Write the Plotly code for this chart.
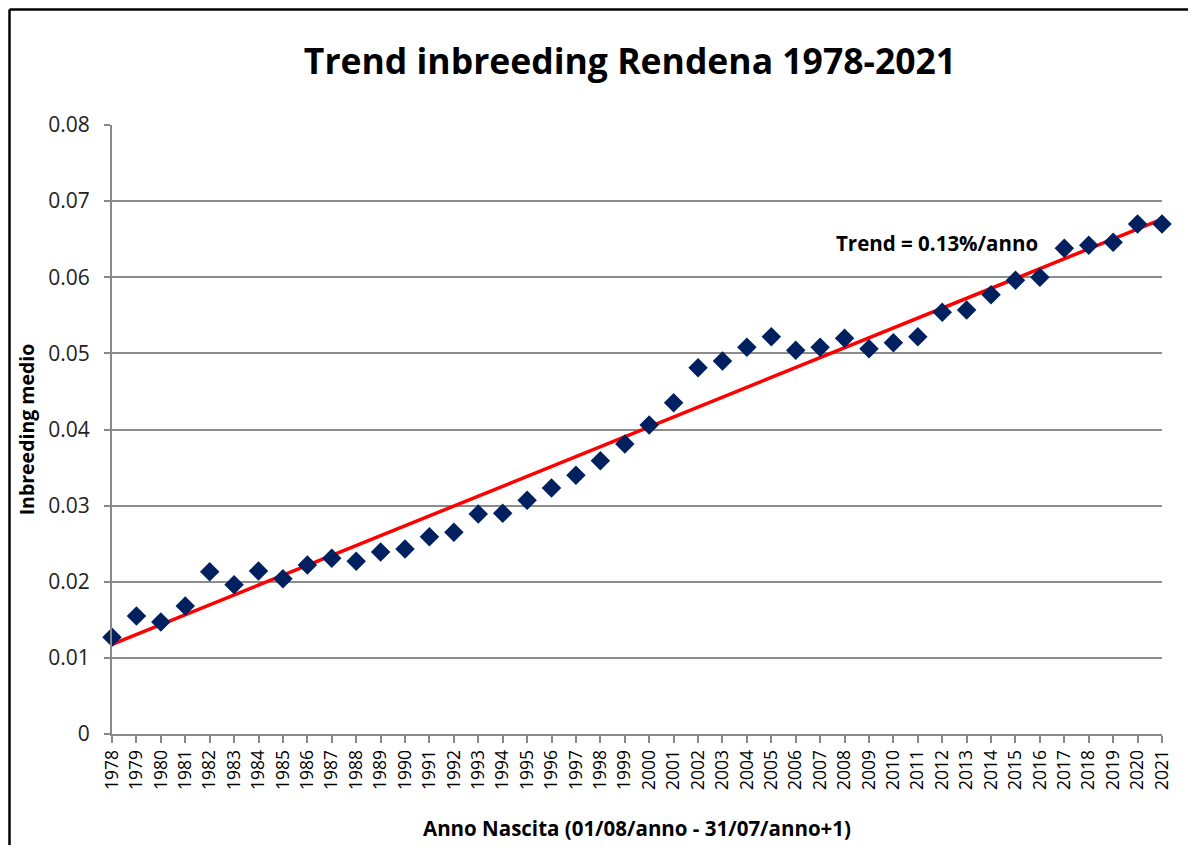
import numpy as np
import plotly.graph_objects as go

years = list(range(1978, 2022))
inbreeding = [0.0127, 0.0155, 0.0147, 0.0168, 0.0213, 0.0196, 0.0214, 0.0204, 0.0222, 0.0231,
              0.0227, 0.0239, 0.0243, 0.0259, 0.0265, 0.0289, 0.0290, 0.0307, 0.0323, 0.0340,
              0.0359, 0.0381, 0.0406, 0.0435, 0.0481, 0.0490, 0.0508, 0.0522, 0.0504, 0.0508,
              0.0520, 0.0506, 0.0514, 0.0522, 0.0554, 0.0557, 0.0577, 0.0596, 0.0600, 0.0638,
              0.0642, 0.0646, 0.0670, 0.0670]
y_ticks = [0, 0.01, 0.02, 0.03, 0.04, 0.05, 0.06, 0.07, 0.08]
y_tick_labels = ["0", "0.01", "0.02", "0.03", "0.04", "0.05", "0.06", "0.07", "0.08"]
title_text = "Trend inbreeding Rendena 1978-2021"
trend_label = "Trend = 0.13%/anno"

slope, intercept = np.polyfit(years, inbreeding, 1)
trend_x = [years[0], years[-1]]
trend_y = [slope * x + intercept for x in trend_x]

FONT = "Open Sans"
fig = go.Figure()
fig.add_trace(go.Scatter(x=trend_x, y=trend_y, mode="lines",
                         line=dict(color="#ff0000", width=3.5), showlegend=False, hoverinfo="skip"))
fig.add_trace(go.Scatter(x=years, y=inbreeding, mode="markers",
                         marker=dict(symbol="diamond", size=15, color="#002060"),
                         showlegend=False, cliponaxis=False))

# page body has an 8px margin; compensate so the plot lands where the reference has it
OFF = 8
W, H = 1196 - 2 * OFF, 853 - 2 * OFF
L = 112 - OFF
T = 125 - OFF
R = (OFF + W) - 1162
B = (OFF + H) - 734
pw, ph = W - L - R, H - T - B

def px(xpage):
    return (xpage - OFF - L) / pw

def py(ypage):
    return 1 - (ypage - OFF - T) / ph

fig.update_layout(
    width=W, height=H,
    margin=dict(l=L, r=R, t=T, b=B, autoexpand=False),
    paper_bgcolor="white", plot_bgcolor="white",
    font=dict(family=FONT, color="#000000"),
    title=dict(text="<b>" + title_text + "</b>", x=(630 - OFF) / W, xanchor="center",
               y=1 - (62 - OFF) / H, yanchor="middle", font=dict(size=35.5, family=FONT, color="#000")),
    xaxis=dict(range=[1978, 2021], tickmode="array", tickvals=years, ticktext=[str(y) for y in years],
               tickangle=-90, tickfont=dict(size=17.5, family=FONT, color="#000"), automargin=False,
               showgrid=False, zeroline=False, showline=True, linecolor="#888888", linewidth=2,
               ticks="outside", ticklen=7, tickcolor="#888888", tickwidth=1.5,
               title=dict(text="<b>Anno Nascita (01/08/anno - 31/07/anno+1)</b>",
                          font=dict(size=20.5, family=FONT, color="#000"), standoff=33)),
    yaxis=dict(range=[0, 0.08], tickmode="array", tickvals=y_ticks, ticktext=y_tick_labels,
               tickfont=dict(size=21, family=FONT, color="#222"), ticklabelstandoff=10, automargin=False,
               showgrid=True, gridcolor="#8c8c8c", gridwidth=2, zeroline=False,
               showline=True, linecolor="#888888", linewidth=2,
               ticks="outside", ticklen=6, tickcolor="#888888", tickwidth=1.5,
               title=dict(text="<b>Inbreeding medio</b>",
                          font=dict(size=19.5, family=FONT, color="#000"), standoff=8)),
    annotations=[dict(text="<b>" + trend_label + "</b>", x=2011.8, y=0.0645, xref="x", yref="y",
                      xanchor="center", yanchor="middle", showarrow=False,
                      font=dict(size=20.5, family=FONT, color="#000"))],
    shapes=[
        dict(type="line", xref="paper", yref="paper", x0=px(9.5), x1=px(9.5),
             y0=py(9.5), y1=py(853), line=dict(color="#000", width=2.5)),
        dict(type="line", xref="paper", yref="paper", x0=px(9.5), x1=px(OFF + W),
             y0=py(9.5), y1=py(9.5), line=dict(color="#000", width=2.5)),
    ],
)
fig.write_html("out.html")
